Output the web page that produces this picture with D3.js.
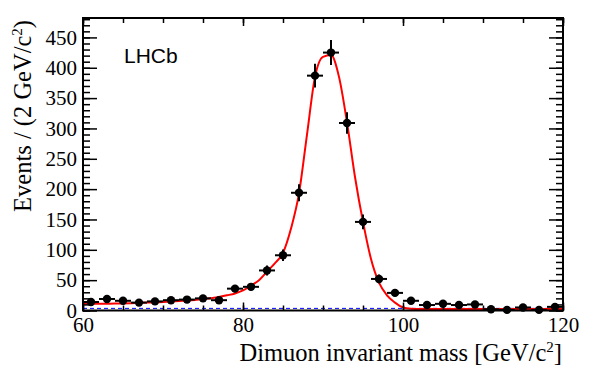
<!DOCTYPE html>
<meta charset="utf-8">
<head>
  <title>Dimuon mass</title>
</head>

<style>
body { margin: 0; background: #fff; }
text { font-family: "Liberation Serif", "Times New Roman", serif; }
</style>

<body>
  <div id="content"></div>

  <script src="https://cdnjs.cloudflare.com/ajax/libs/d3/7.8.5/d3.min.js"></script>

  <script>
// Data points (bin centres, 2 GeV bins)
var massBins = [61, 63, 65, 67, 69, 71, 73, 75, 77, 79, 81, 83, 85, 87, 89, 91, 93, 95, 97, 99,
                101, 103, 105, 107, 109, 111, 113, 115, 117, 119];
var events = [14, 19, 16, 13, 15, 17, 18, 20, 17, 36, 39, 66, 91, 194, 387, 425, 309, 146, 52, 29,
              16, 9, 11, 9, 10, 2, 1, 5, 1, 6];

// Fit curve
var fitMass = [60, 62, 64, 66, 68, 70, 72, 74, 76, 78, 79, 80, 81, 82, 83, 84, 85, 86, 87, 88,
               89, 90, 91, 92, 93, 94, 95, 96, 97, 98, 99, 100, 101, 102, 104, 110, 120];
var fitValue = [11, 11, 11.5, 12, 13, 14, 15.5, 17.5, 20, 25, 28, 33, 41, 50, 64, 78, 95, 135, 193, 290,
                385, 418, 421, 385, 310, 220, 146, 85, 46, 25, 13, 5, 3, 2.5, 2.5, 2.5, 2.5];

// Background component (blue dashed)
var bkgMass = [60, 120];
var bkgValue = [3.5, 3.5];

var xTicksMajor = [60, 80, 100, 120];
var yTicksMajor = [0, 50, 100, 150, 200, 250, 300, 350, 400, 450];

var W = 593, H = 370;
var padL = 83, padR = 563, padT = 18, padB = 310.5;

var svg = d3.select('#content').append('svg')
  .attr('width', W)
  .attr('height', H);

var x = d3.scaleLinear().domain([60, 120]).range([padL, padR]);
var y = d3.scaleLinear().domain([0, 482]).range([padB, padT]);

// background
svg.append('path')
  .attr('d', d3.line().x(function(d, i) { return x(bkgMass[i]); }).y(function(d) { return y(d); })(bkgValue))
  .attr('fill', 'none')
  .attr('stroke', '#0000ff')
  .attr('stroke-width', 1)
  .attr('stroke-dasharray', '4,3');

// fit
svg.append('path')
  .attr('d', d3.line()
    .curve(d3.curveMonotoneX)
    .x(function(d, i) { return x(fitMass[i]); })
    .y(function(d) { return y(d); })(fitValue))
  .attr('fill', 'none')
  .attr('stroke', '#ff0000')
  .attr('stroke-width', 2);

// data points with error bars
var pts = svg.append('g');
massBins.forEach(function(m, i) {
  var n = events[i], err = Math.sqrt(n);
  pts.append('line')
    .attr('x1', x(m - 1)).attr('x2', x(m + 1))
    .attr('y1', y(n)).attr('y2', y(n))
    .attr('stroke', '#000').attr('stroke-width', 2);
  pts.append('line')
    .attr('x1', x(m)).attr('x2', x(m))
    .attr('y1', y(Math.max(0, n - err))).attr('y2', y(n + err))
    .attr('stroke', '#000').attr('stroke-width', 2);
  pts.append('circle')
    .attr('cx', x(m)).attr('cy', y(n)).attr('r', 4.2)
    .attr('fill', '#000');
});

// axes, ticks pointing inward
function tickStyle(g) {
  g.select('.domain').remove();
  g.selectAll('.tick line').attr('stroke', '#000').attr('stroke-width', 1.5);
}

svg.append('g').attr('transform', 'translate(0,' + padB + ')')
  .call(d3.axisBottom(x).tickValues(d3.range(60, 121, 5)).tickSize(-5).tickFormat(''))
  .call(tickStyle);
svg.append('g').attr('transform', 'translate(0,' + padB + ')')
  .call(d3.axisBottom(x).tickValues(xTicksMajor).tickSize(-8).tickPadding(7).tickFormat(d3.format('d')))
  .call(tickStyle)
  .selectAll('text').attr('font-size', 21).attr('fill', '#000').attr('font-family', 'Liberation Serif');
svg.append('g').attr('transform', 'translate(0,' + padT + ')')
  .call(d3.axisTop(x).tickValues(d3.range(60, 121, 5)).tickSize(-5).tickFormat(''))
  .call(tickStyle);
svg.append('g').attr('transform', 'translate(0,' + padT + ')')
  .call(d3.axisTop(x).tickValues(xTicksMajor).tickSize(-8).tickFormat(''))
  .call(tickStyle);

svg.append('g').attr('transform', 'translate(' + padL + ',0)')
  .call(d3.axisLeft(y).tickValues(d3.range(0, 481, 10)).tickSize(-7).tickFormat(''))
  .call(tickStyle);
svg.append('g').attr('transform', 'translate(' + padL + ',0)')
  .call(d3.axisLeft(y).tickValues(yTicksMajor).tickSize(-14).tickPadding(6).tickFormat(d3.format('d')))
  .call(tickStyle)
  .selectAll('text').attr('font-size', 21).attr('fill', '#000').attr('font-family', 'Liberation Serif');
svg.append('g').attr('transform', 'translate(' + padR + ',0)')
  .call(d3.axisRight(y).tickValues(d3.range(0, 481, 10)).tickSize(-7).tickFormat(''))
  .call(tickStyle);
svg.append('g').attr('transform', 'translate(' + padR + ',0)')
  .call(d3.axisRight(y).tickValues(yTicksMajor).tickSize(-14).tickFormat(''))
  .call(tickStyle);

// frame
svg.append('rect')
  .attr('x', padL).attr('y', padT)
  .attr('width', padR - padL).attr('height', padB - padT)
  .attr('fill', 'none').attr('stroke', '#000').attr('stroke-width', 2);

// labels
svg.append('text')
  .attr('x', 124).attr('y', 63)
  .attr('font-size', 21)
  .style('font-family', 'Liberation Sans, Arial, sans-serif')
  .text('LHCb');

var xt = svg.append('text')
  .attr('x', 562).attr('y', 361)
  .attr('text-anchor', 'end')
  .attr('font-size', 24.5);
xt.append('tspan').text('Dimuon invariant mass [GeV/c');
xt.append('tspan').attr('font-size', 15).attr('dy', -9).text('2');
xt.append('tspan').attr('dy', 9).text(']');

var yt = svg.append('text')
  .attr('transform', 'translate(31,20) rotate(-90)')
  .attr('text-anchor', 'end')
  .attr('font-size', 24.5);
yt.append('tspan').text('Events / (2 GeV/c');
yt.append('tspan').attr('font-size', 15).attr('dy', -9).text('2');
yt.append('tspan').attr('dy', 9).text(')');
  </script>
</body>
</html>
